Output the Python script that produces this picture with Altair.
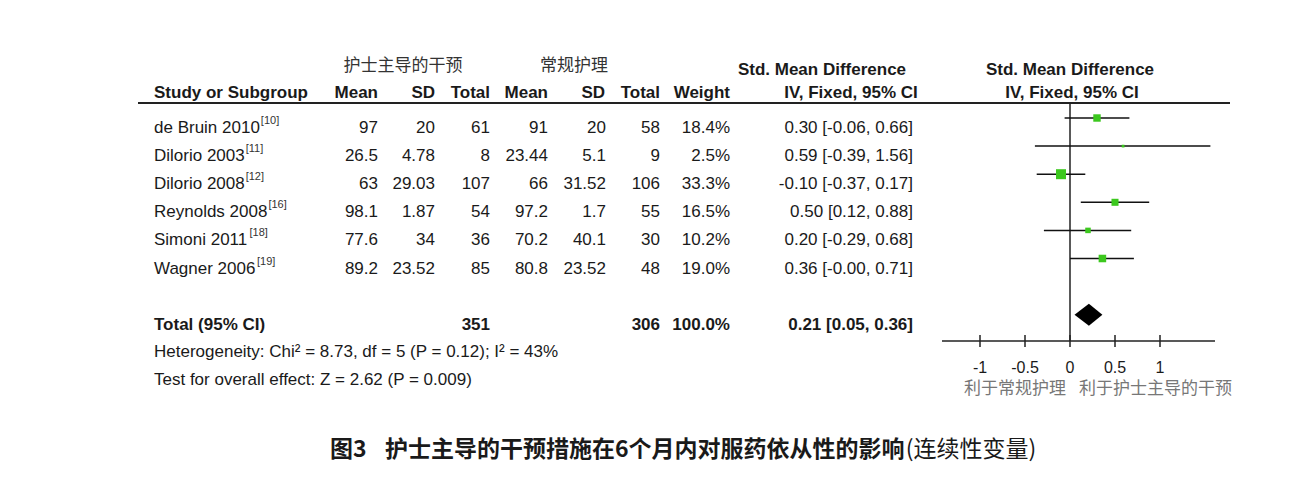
import altair as alt
import pandas as pd

# ---------------- data ----------------
studies = ["de Bruin 2010", "Dilorio 2003", "Dilorio 2008", "Reynolds 2008", "Simoni 2011", "Wagner 2006"]
refs = ["[10]", "[11]", "[12]", "[16]", "[18]", "[19]"]
exp_mean = [97, 26.5, 63, 98.1, 77.6, 89.2]
exp_sd = [20, 4.78, 29.03, 1.87, 34, 23.52]
exp_n = [61, 8, 107, 54, 36, 85]
ctl_mean = [91, 23.44, 66, 97.2, 70.2, 80.8]
ctl_sd = [20, 5.1, 31.52, 1.7, 40.1, 23.52]
ctl_n = [58, 9, 106, 55, 30, 48]
weights = [18.4, 2.5, 33.3, 16.5, 10.2, 19.0]
smd = [0.30, 0.59, -0.10, 0.50, 0.20, 0.36]
ci_low = [-0.06, -0.39, -0.37, 0.12, -0.29, -0.0]
ci_high = [0.66, 1.56, 0.17, 0.88, 0.68, 0.71]

total_label = "Total (95% CI)"
total_exp_n = 351
total_ctl_n = 306
total_weight = 100.0
total_smd = 0.21
total_low = 0.05
total_high = 0.36

heterogeneity = "Heterogeneity: Chi\u00b2 = 8.73, df = 5 (P = 0.12); I\u00b2 = 43%"
overall_effect = "Test for overall effect: Z = 2.62 (P = 0.009)"
tick_values = [-1, -0.5, 0, 0.5, 1]
tick_labels = ["-1", "-0.5", "0", "0.5", "1"]
favours_left = "利于常规护理"
favours_right = "利于护士主导的干预"
group_exp = "护士主导的干预"
group_ctl = "常规护理"
caption_num = "图3"
caption_bold = "护士主导的干预措施在6个月内对服药依从性的影响"
caption_rest = "(连续性变量)"

# ---------------- layout / style ----------------
W, H = 1298, 485
FONT = "Liberation Sans"
CJK = "Noto Sans CJK SC"
TXT = "#1a1a1a"
GREEN = "#3cc81e"
FS = 17
ROW0_PX, ROW_STEP = 118, 28.1
ZERO_PX, UNIT_PX = 1070, 90
TEXT_DY = 15
TOTAL_ROW = 7
DIAMOND_HALF = 0.39

yscale = alt.Scale(domain=[-ROW0_PX / ROW_STEP, (H - ROW0_PX) / ROW_STEP], range=[0, H], nice=False, zero=False)
xscale = alt.Scale(domain=[-ZERO_PX / UNIT_PX, (W - ZERO_PX) / UNIT_PX], range=[0, W], nice=False, zero=False)
Y = alt.Y("row:Q", scale=yscale, axis=None)

df = pd.DataFrame({
    "row": list(range(len(studies))),
    "study": studies,
    "ref": refs,
    "exp_mean_s": [str(v) for v in exp_mean],
    "exp_sd_s": [str(v) for v in exp_sd],
    "exp_n_s": [str(v) for v in exp_n],
    "ctl_mean_s": [str(v) for v in ctl_mean],
    "ctl_sd_s": [str(v) for v in ctl_sd],
    "ctl_n_s": [str(v) for v in ctl_n],
    "weight_s": [f"{w:.1f}%" for w in weights],
    "ci_s": [f"{m:.2f} [{l:.2f}, {h:.2f}]" for m, l, h in zip(smd, ci_low, ci_high)],
    "smd": smd, "lo": ci_low, "hi": ci_high, "weight": weights,
})
df_total = pd.DataFrame({
    "row": [TOTAL_ROW], "label": [total_label],
    "exp_n_s": [str(total_exp_n)], "ctl_n_s": [str(total_ctl_n)],
    "weight_s": [f"{total_weight:.1f}%"],
    "ci_s": [f"{total_smd:.2f} [{total_low:.2f}, {total_high:.2f}]"],
})
dummy = pd.DataFrame({"k": [0]})

# Arial / Liberation Sans advance widths (1/1000 em) for superscript placement
AW = {" ": 278, "a": 556, "b": 556, "d": 556, "e": 556, "g": 556, "i": 222, "l": 222, "m": 833,
      "n": 556, "o": 556, "r": 333, "s": 500, "u": 556, "y": 500, "B": 667, "D": 722, "R": 722,
      "S": 667, "W": 944}
def text_w(s, size):
    return sum(AW.get(c, 556) for c in s) * size / 1000.0

def label(txt, x, y, align="left", size=FS, weight="normal", color=TXT, font=FONT, baseline="alphabetic"):
    return alt.Chart(dummy).mark_text(text=txt, align=align, baseline=baseline, fontSize=size,
                                      fontWeight=weight, color=color, font=font).encode(
        x=alt.value(x), y=alt.value(y))

layers = []

# header line
layers.append(alt.Chart(dummy).mark_rule(color="#222", strokeWidth=1.8).encode(
    x=alt.value(138), x2=alt.value(1230), y=alt.value(103)))

# group headers
layers.append(label(group_exp, 403, 66, align="center", font=CJK, color="#333", baseline="middle"))
layers.append(label(group_ctl, 574, 66, align="center", font=CJK, color="#333", baseline="middle"))
layers.append(label("Std. Mean Difference", 822, 75, align="center", weight="bold"))
layers.append(label("Std. Mean Difference", 1070, 75, align="center", weight="bold"))

# column heads
layers.append(label("Study or Subgroup", 154, 98, weight="bold"))
for txt, xpx in [("Mean", 378), ("SD", 435), ("Total", 490), ("Mean", 548), ("SD", 605),
                 ("Total", 660), ("Weight", 730)]:
    layers.append(label(txt, xpx, 98, align="right", weight="bold"))
layers.append(label("IV, Fixed, 95% CI", 851, 98, align="center", weight="bold"))
layers.append(label("IV, Fixed, 95% CI", 1072, 98, align="center", weight="bold"))

base = alt.Chart(df)
# study names
layers.append(base.mark_text(align="left", baseline="alphabetic", dy=TEXT_DY, fontSize=FS, font=FONT, color=TXT)
              .encode(x=alt.value(154), y=Y, text="study:N"))
# superscript refs
for i in range(len(studies)):
    sx = 154 + text_w(studies[i], FS) + 1
    layers.append(alt.Chart(df.iloc[[i]]).mark_text(align="left", baseline="alphabetic", dy=TEXT_DY - 9,
                                                   fontSize=11, font=FONT, color="#333")
                  .encode(x=alt.value(sx), y=Y, text="ref:N"))

cols = [("exp_mean_s", 378), ("exp_sd_s", 435), ("exp_n_s", 490), ("ctl_mean_s", 548),
        ("ctl_sd_s", 606), ("ctl_n_s", 660), ("weight_s", 730), ("ci_s", 913)]
for field, xpx in cols:
    layers.append(base.mark_text(align="right", baseline="alphabetic", dy=TEXT_DY, fontSize=FS, font=FONT, color=TXT)
                  .encode(x=alt.value(xpx), y=Y, text=f"{field}:N"))

# total row
tbase = alt.Chart(df_total)
layers.append(tbase.mark_text(align="left", baseline="alphabetic", dy=TEXT_DY, fontSize=FS, font=FONT,
                              fontWeight="bold", color=TXT).encode(x=alt.value(154), y=Y, text="label:N"))
for field, xpx in [("exp_n_s", 490), ("ctl_n_s", 660), ("weight_s", 730), ("ci_s", 913)]:
    layers.append(tbase.mark_text(align="right", baseline="alphabetic", dy=TEXT_DY, fontSize=FS, font=FONT,
                                  fontWeight="bold", color=TXT).encode(x=alt.value(xpx), y=Y, text=f"{field}:N"))

# footer
layers.append(label(heterogeneity, 154, 357))
layers.append(label(overall_effect, 154, 385))

# forest: zero line
layers.append(alt.Chart(pd.DataFrame({"x": [0]})).mark_rule(color="#222", strokeWidth=1.5).encode(
    x=alt.X("x:Q", scale=xscale, axis=None), y=alt.value(103), y2=alt.value(341)))
# CIs
layers.append(base.mark_rule(color="#111", strokeWidth=1.5).encode(
    x=alt.X("lo:Q", scale=xscale, axis=None), x2="hi:Q", y=Y))
# squares
layers.append(base.mark_square(filled=True, color=GREEN, opacity=1).encode(
    x=alt.X("smd:Q", scale=xscale, axis=None), y=Y,
    size=alt.Size("weight:Q", scale=alt.Scale(domain=[0, 33.3], range=[0, 100]), legend=None)))
# diamond
df_d = pd.DataFrame({"x": [total_low, total_smd, total_high],
                     "yt": [TOTAL_ROW, TOTAL_ROW - DIAMOND_HALF, TOTAL_ROW],
                     "yb": [TOTAL_ROW, TOTAL_ROW + DIAMOND_HALF, TOTAL_ROW]})
layers.append(alt.Chart(df_d).mark_area(color="black", orient="vertical", opacity=1).encode(
    x=alt.X("x:Q", scale=xscale, axis=None), y=alt.Y("yt:Q", scale=yscale, axis=None), y2="yb:Q"))

# axis
layers.append(alt.Chart(dummy).mark_rule(color="#222", strokeWidth=1.5).encode(
    x=alt.value(942), x2=alt.value(1215), y=alt.value(341)))
df_t = pd.DataFrame({"t": tick_values, "lab": tick_labels})
layers.append(alt.Chart(df_t).mark_rule(color="#222", strokeWidth=1.5).encode(
    x=alt.X("t:Q", scale=xscale, axis=None), y=alt.value(335), y2=alt.value(347)))
layers.append(alt.Chart(df_t).mark_text(align="center", baseline="alphabetic", fontSize=16, font=FONT, color=TXT)
              .encode(x=alt.X("t:Q", scale=xscale, axis=None), y=alt.value(373), text="lab:N"))
layers.append(label(favours_left, 1066, 389, align="right", font=CJK, color="#777", baseline="middle"))
layers.append(label(favours_right, 1079, 389, align="left", font=CJK, color="#777", baseline="middle"))

# caption
CAP = 23
def cjk_w(s, size):
    return sum((1.0 if ord(c) > 0x2E80 else 0.55) for c in s) * size
layers.append(label(caption_num, 330, 450, size=CAP, weight="bold", font=CJK, baseline="middle"))
layers.append(label(caption_bold, 385, 450, size=CAP, weight="bold", font=CJK, baseline="middle"))
layers.append(label(caption_rest, 385 + cjk_w(caption_bold, CAP) + 2, 450, size=CAP, font=CJK, baseline="middle"))

chart = alt.layer(*layers).properties(
    width=W, height=H, padding=0, autosize=alt.AutoSizeParams(type="none"), background="white"
).configure_view(stroke=None)

chart.save("out.html", embed_options={"renderer": "svg", "actions": False})
